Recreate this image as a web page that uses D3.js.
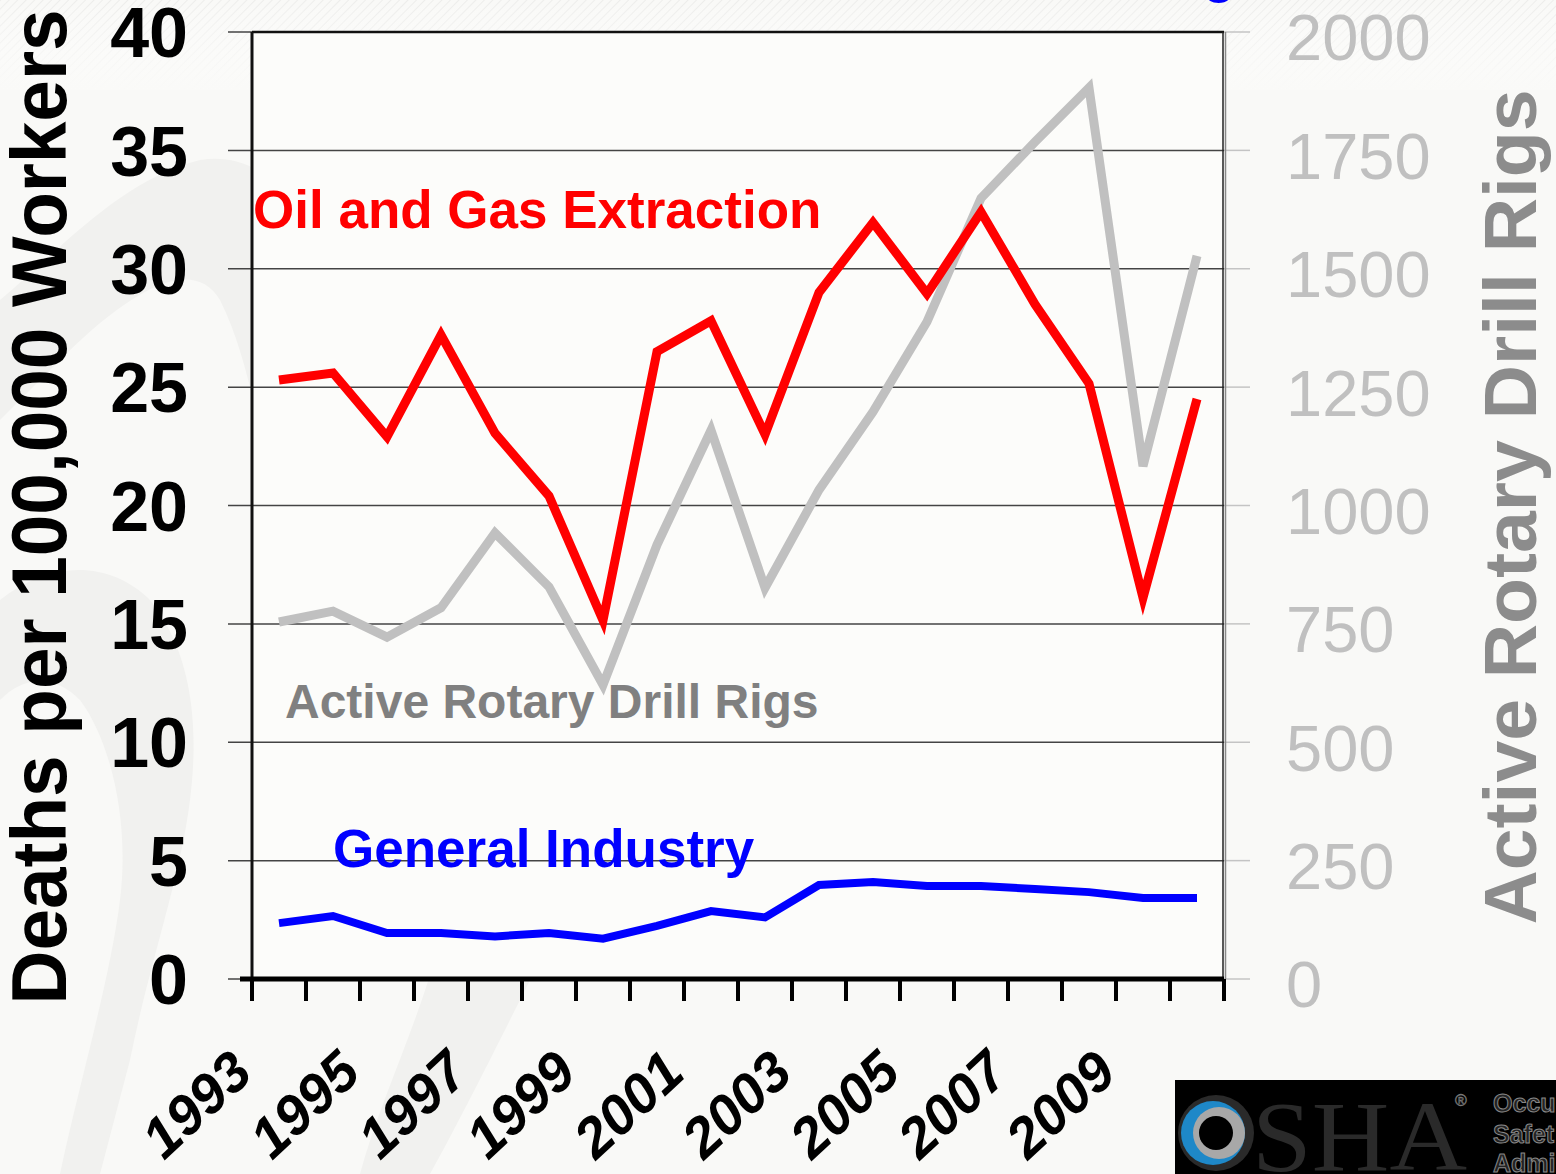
<!DOCTYPE html>
<html><head><meta charset="utf-8">
<script src="https://cdn.jsdelivr.net/npm/d3@7"></script>
<style>html,body{margin:0;padding:0;background:#f7f7f5;}svg{display:block;}</style>
</head><body>
<svg id="c" width="1556" height="1174"></svg>
<script>
const years = [1993,1994,1995,1996,1997,1998,1999,2000,2001,2002,2003,2004,2005,2006,2007,2008,2009,2010];
const oilGas = [25.3,25.6,22.9,27.2,23.05,20.4,15.15,26.5,27.8,23.0,29.0,31.95,28.95,32.4,28.5,25.15,16.1,24.5];
const rigs = [754,777,722,784,942,828,621,917,1159,826,1033,1198,1388,1649,1768,1882,1083,1527];
const general = [2.36,2.66,1.94,1.94,1.8,1.94,1.7,2.24,2.87,2.6,3.97,4.1,3.93,3.93,3.8,3.67,3.42,3.42];
const leftTicks = [0,5,10,15,20,25,30,35,40];
const rightTicks = [0,250,500,750,1000,1250,1500,1750,2000];
const yearLabels = [1993,1995,1997,1999,2001,2003,2005,2007,2009];

const svg = d3.select("#c");
const L = 252, R = 1224, T = 32, B = 979;

// background
const defs = svg.append("defs");
const pat = defs.append("pattern").attr("id","hatch").attr("width",6).attr("height",6)
  .attr("patternUnits","userSpaceOnUse").attr("patternTransform","rotate(45)");
pat.append("rect").attr("width",6).attr("height",6).attr("fill","#f9f9f7");
pat.append("line").attr("x1",0).attr("y1",0).attr("x2",0).attr("y2",6).attr("stroke","#ededeb").attr("stroke-width",2);
const grad = defs.append("linearGradient").attr("id","fade").attr("x1",0).attr("y1",0).attr("x2",0).attr("y2",1);
grad.append("stop").attr("offset","0").attr("stop-color","#fff").attr("stop-opacity",0);
grad.append("stop").attr("offset","1").attr("stop-color","#fafaf8").attr("stop-opacity",1);
svg.append("rect").attr("width",1556).attr("height",1174).attr("fill","#f9f9f7");
svg.append("rect").attr("width",1556).attr("height",90).attr("fill","url(#hatch)");
svg.append("rect").attr("width",1556).attr("height",90).attr("fill","url(#fade)");

// faint watermark shapes
const wm = svg.append("g").attr("fill","#f1f1ef");
wm.append("path").attr("d","M0,300 C60,250 120,180 200,160 C260,150 300,200 330,260 C360,330 380,420 420,500 C460,580 520,640 560,720 C590,790 580,880 540,960 C500,1040 460,1120 430,1174 L360,1174 C380,1100 420,1020 440,940 C460,860 420,800 380,740 C330,670 300,600 280,520 C260,440 250,360 220,300 C190,250 120,300 60,360 C40,380 20,400 0,420 Z");
wm.append("path").attr("d","M0,600 C50,560 110,560 150,600 C190,650 200,720 190,800 C180,880 150,960 130,1060 L100,1174 L60,1174 C80,1080 110,980 120,900 C130,820 110,740 80,700 C50,670 20,680 0,700 Z");

// plot area
svg.append("rect").attr("x",L).attr("y",T).attr("width",R-L).attr("height",B-T).attr("fill","#fcfcfa");

const x = d3.scaleBand().domain(years).range([L,R]);
const xc = d => x(d) + x.bandwidth()/2;
const yL = d3.scaleLinear().domain([0,40]).range([B,T]);
const yR = d3.scaleLinear().domain([0,2000]).range([B,T]);

// gridlines
const grid = svg.append("g");
leftTicks.forEach(v=>{
  grid.append("line").attr("x1",228).attr("x2",R).attr("y1",yL(v)).attr("y2",yL(v)).attr("stroke","#444").attr("stroke-width",1.5);
  grid.append("line").attr("x1",R).attr("x2",1250).attr("y1",yL(v)).attr("y2",yL(v)).attr("stroke","#c4c4c4").attr("stroke-width",1.5);
});

// frame
svg.append("line").attr("x1",L).attr("x2",R).attr("y1",T).attr("y2",T).attr("stroke","#111").attr("stroke-width",2.5);
svg.append("line").attr("x1",L).attr("x2",L).attr("y1",T).attr("y2",B).attr("stroke","#111").attr("stroke-width",3);
svg.append("line").attr("x1",R-1).attr("x2",R-1).attr("y1",T).attr("y2",B+20).attr("stroke","#222").attr("stroke-width",1.5);
svg.append("line").attr("x1",R+1.5).attr("x2",R+1.5).attr("y1",T).attr("y2",B).attr("stroke","#888").attr("stroke-width",1.5);

// lines
const lineGen = (ys, data) => d3.line().x((d,i)=>xc(years[i])).y(d=>ys(d))(data);
svg.append("path").attr("d",lineGen(yR,rigs)).attr("fill","none").attr("stroke","#c0c0c0").attr("stroke-width",9).attr("stroke-linejoin","miter");
svg.append("path").attr("d",lineGen(yL,oilGas)).attr("fill","none").attr("stroke","#ff0000").attr("stroke-width",9).attr("stroke-linejoin","miter");
svg.append("path").attr("d",lineGen(yL,general)).attr("fill","none").attr("stroke","#0000ff").attr("stroke-width",8).attr("stroke-linejoin","miter");

// x axis
svg.append("line").attr("x1",240).attr("x2",R).attr("y1",B).attr("y2",B).attr("stroke","#000").attr("stroke-width",5);
const xTicks = years.map(d=>x(d)).concat([R]);
svg.append("g").selectAll("line").data(xTicks).join("line")
  .attr("x1",d=>d).attr("x2",d=>d).attr("y1",B).attr("y2",B+22).attr("stroke","#000").attr("stroke-width",4);

// x labels
svg.append("g").selectAll("text").data(yearLabels).join("text")
  .attr("transform",d=>`translate(${xc(d)-24},1076) rotate(-43)`)
  .attr("text-anchor","end")
  .attr("font-family","Liberation Sans, Arial, sans-serif").attr("font-weight","bold").attr("font-size",56)
  .attr("font-style","italic")
  .attr("fill","#000").text(d=>d);

// left tick labels
svg.append("g").selectAll("text").data(leftTicks).join("text")
  .attr("x",188).attr("y",d=>yL(d)).attr("dy","0.36em").attr("text-anchor","end")
  .attr("font-family","Liberation Sans, Arial, sans-serif").attr("font-weight","bold").attr("font-size",70)
  .attr("fill","#000").text(d=>d);

// right tick labels
svg.append("g").selectAll("text").data(rightTicks).join("text")
  .attr("x",1286).attr("y",d=>yR(d)+5).attr("dy","0.36em").attr("text-anchor","start")
  .attr("font-family","Liberation Sans, Arial, sans-serif").attr("font-size",65)
  .attr("fill","#c0c0c0").text(d=>d);

// axis titles
svg.append("text").attr("transform","translate(66,507) rotate(-90)").attr("text-anchor","middle")
  .attr("font-family","Liberation Sans Narrow, Liberation Sans, Arial, sans-serif").attr("font-weight","bold").attr("font-size",78)
  .attr("textLength",995).attr("lengthAdjust","spacingAndGlyphs")
  .attr("fill","#000").text("Deaths per 100,000 Workers");
svg.append("text").attr("transform","translate(1536,507) rotate(-90)").attr("text-anchor","middle")
  .attr("font-family","Liberation Sans, Arial, sans-serif").attr("font-weight","bold").attr("font-size",75)
  .attr("textLength",835).attr("lengthAdjust","spacingAndGlyphs")
  .attr("fill","#8c8c8c").text("Active Rotary Drill Rigs");

// series labels
svg.append("text").attr("x",253).attr("y",228)
  .attr("font-family","Liberation Sans, Arial, sans-serif").attr("font-weight","bold").attr("font-size",53)
  .attr("fill","#ff0000").text("Oil and Gas Extraction");
svg.append("text").attr("x",285).attr("y",718)
  .attr("font-family","Liberation Sans, Arial, sans-serif").attr("font-weight","bold").attr("font-size",48)
  .attr("fill","#808080").text("Active Rotary Drill Rigs");
svg.append("text").attr("x",333).attr("y",867)
  .attr("font-family","Liberation Sans, Arial, sans-serif").attr("font-weight","bold").attr("font-size",53)
  .attr("fill","#0000ff").text("General Industry");

// clipped title descender at top
svg.append("text").attr("x",1203).attr("y",-8)
  .attr("font-family","Liberation Sans, Arial, sans-serif").attr("font-weight","bold").attr("font-size",53)
  .attr("fill","#0000ff").text("g");

// OSHA logo
const logo = svg.append("g");
logo.append("rect").attr("x",1175).attr("y",1080).attr("width",381).attr("height",94).attr("fill","#000");
logo.append("circle").attr("cx",1216).attr("cy",1133).attr("r",38).attr("fill","#2a2a2a");
logo.append("circle").attr("cx",1213).attr("cy",1133).attr("r",32).attr("fill","#1e88c8");
logo.append("circle").attr("cx",1219).attr("cy",1133).attr("r",26).attr("fill","#a8a8a8");
logo.append("circle").attr("cx",1216).attr("cy",1133).attr("r",17).attr("fill","#000");
logo.append("text").attr("x",1252).attr("y",1170)
  .attr("font-family","Liberation Serif, DejaVu Serif, serif").attr("font-size",100)
  .attr("textLength",215).attr("lengthAdjust","spacingAndGlyphs")
  .attr("fill","#2a2a2a").text("SHA");
logo.append("text").attr("x",1455).attr("y",1106)
  .attr("font-family","Liberation Sans, Arial, sans-serif").attr("font-size",16)
  .attr("fill","#2a2a2a").attr("stroke","#777").attr("stroke-width",0.6).text("®");
[["Occu",1112],["Safet",1143],["Admi",1172]].forEach(([t,yy])=>{
  logo.append("text").attr("x",1493).attr("y",yy)
    .attr("font-family","Liberation Sans, Arial, sans-serif").attr("font-weight","bold").attr("font-size",25)
    .attr("fill","#222").attr("stroke","#888").attr("stroke-width",1).text(t);
});
</script>
</body></html>
